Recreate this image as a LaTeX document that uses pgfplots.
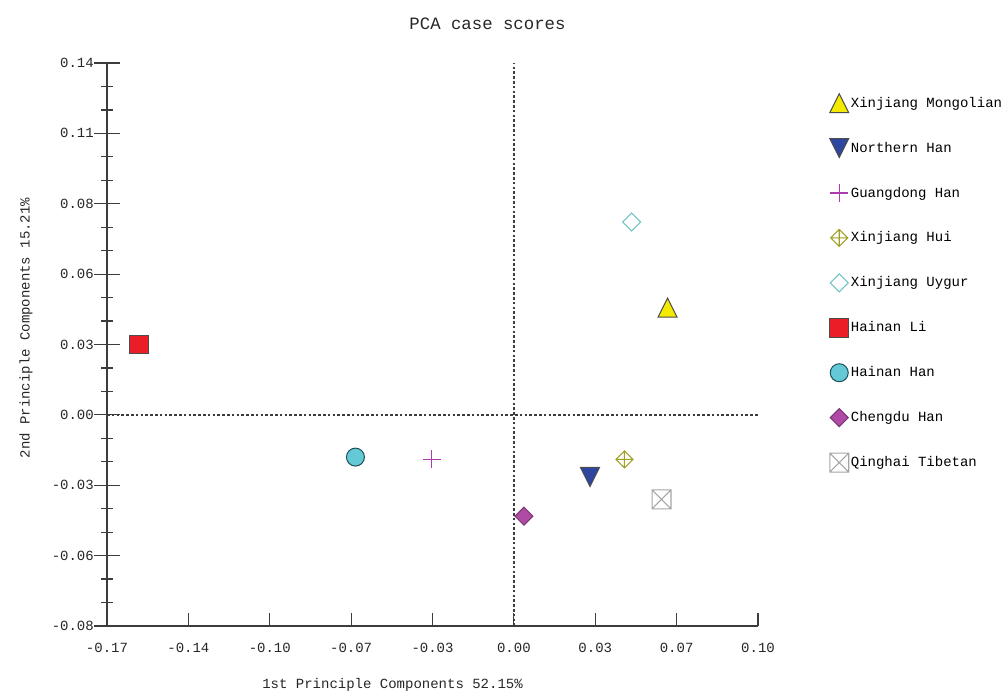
\documentclass[border=0pt]{standalone}
\usepackage{pgfplots}
\pgfplotsset{compat=1.18}
\usepackage{fontspec}
\setmainfont{Liberation Mono}

\definecolor{cyel}{RGB}{243,234,0}
\definecolor{cblue}{RGB}{45,70,160}
\definecolor{cpurp}{RGB}{170,60,175}
\definecolor{colive}{RGB}{160,160,40}
\definecolor{cuyg}{RGB}{110,195,195}
\definecolor{cred}{RGB}{235,30,40}
\definecolor{ccyan}{RGB}{100,200,215}
\definecolor{ccyanb}{RGB}{30,80,90}
\definecolor{cmag}{RGB}{175,75,165}
\definecolor{cgray}{RGB}{165,165,165}
\definecolor{caxis}{RGB}{60,60,60}

\pgfdeclareplotmark{tup}{%
  \pgfpathmoveto{\pgfqpoint{0pt}{\pgfplotmarksize}}%
  \pgfpathlineto{\pgfqpoint{\pgfplotmarksize}{-\pgfplotmarksize}}%
  \pgfpathlineto{\pgfqpoint{-\pgfplotmarksize}{-\pgfplotmarksize}}%
  \pgfpathclose\pgfusepathqfillstroke}
\pgfdeclareplotmark{tdown}{%
  \pgfpathmoveto{\pgfqpoint{0pt}{-\pgfplotmarksize}}%
  \pgfpathlineto{\pgfqpoint{\pgfplotmarksize}{\pgfplotmarksize}}%
  \pgfpathlineto{\pgfqpoint{-\pgfplotmarksize}{\pgfplotmarksize}}%
  \pgfpathclose\pgfusepathqfillstroke}
\pgfdeclareplotmark{dia}{%
  \pgfpathmoveto{\pgfqpoint{0pt}{\pgfplotmarksize}}%
  \pgfpathlineto{\pgfqpoint{\pgfplotmarksize}{0pt}}%
  \pgfpathlineto{\pgfqpoint{0pt}{-\pgfplotmarksize}}%
  \pgfpathlineto{\pgfqpoint{-\pgfplotmarksize}{0pt}}%
  \pgfpathclose\pgfusepathqfillstroke}
\pgfdeclareplotmark{diaopen}{%
  \pgfpathmoveto{\pgfqpoint{0pt}{\pgfplotmarksize}}%
  \pgfpathlineto{\pgfqpoint{\pgfplotmarksize}{0pt}}%
  \pgfpathlineto{\pgfqpoint{0pt}{-\pgfplotmarksize}}%
  \pgfpathlineto{\pgfqpoint{-\pgfplotmarksize}{0pt}}%
  \pgfpathclose\pgfusepathqstroke}
\pgfdeclareplotmark{diaplus}{%
  \pgfpathmoveto{\pgfqpoint{0pt}{\pgfplotmarksize}}%
  \pgfpathlineto{\pgfqpoint{\pgfplotmarksize}{0pt}}%
  \pgfpathlineto{\pgfqpoint{0pt}{-\pgfplotmarksize}}%
  \pgfpathlineto{\pgfqpoint{-\pgfplotmarksize}{0pt}}%
  \pgfpathclose
  \pgfpathmoveto{\pgfqpoint{0pt}{\pgfplotmarksize}}%
  \pgfpathlineto{\pgfqpoint{0pt}{-\pgfplotmarksize}}%
  \pgfpathmoveto{\pgfqpoint{-\pgfplotmarksize}{0pt}}%
  \pgfpathlineto{\pgfqpoint{\pgfplotmarksize}{0pt}}%
  \pgfusepathqstroke}
\pgfdeclareplotmark{plusm}{%
  \pgfsetstrokecolor{cpurp}%
  \pgfpathmoveto{\pgfqpoint{0pt}{\pgfplotmarksize}}%
  \pgfpathlineto{\pgfqpoint{0pt}{-\pgfplotmarksize}}%
  \pgfpathmoveto{\pgfqpoint{-\pgfplotmarksize}{0pt}}%
  \pgfpathlineto{\pgfqpoint{\pgfplotmarksize}{0pt}}%
  \pgfusepathqstroke}
\pgfdeclareplotmark{sqx}{%
  \pgfpathrectangle{\pgfqpoint{-\pgfplotmarksize}{-\pgfplotmarksize}}{\pgfqpoint{2\pgfplotmarksize}{2\pgfplotmarksize}}%
  \pgfpathmoveto{\pgfqpoint{-\pgfplotmarksize}{-\pgfplotmarksize}}%
  \pgfpathlineto{\pgfqpoint{\pgfplotmarksize}{\pgfplotmarksize}}%
  \pgfpathmoveto{\pgfqpoint{-\pgfplotmarksize}{\pgfplotmarksize}}%
  \pgfpathlineto{\pgfqpoint{\pgfplotmarksize}{-\pgfplotmarksize}}%
  \pgfusepathqstroke}

\begin{document}
\begin{tikzpicture}
\begin{axis}[
  at={(80.25pt,51pt)}, anchor=south west,
  scale only axis, width=488.25pt, height=422.25pt,
  xmin=-0.17, xmax=0.102, ymin=-0.084, ymax=0.14,
  axis x line=none, axis y line=left,
  axis line style={-, line width=0.9pt, caxis},
  ytick={-0.084,-0.056,-0.028,0,0.028,0.056,0.084,0.112,0.14},
  yticklabels={-0.08,-0.06,-0.03,0.00,0.03,0.06,0.08,0.11,0.14},
  minor y tick num=2,
  tick align=center,
  major tick length=18.75pt, minor tick length=8.6pt,
  tick style={line width=0.9pt, caxis},
  yticklabel style={font=\fontsize{10.5}{12}\selectfont, text=black!85, xshift=3pt},
  legend style={at={(axis description cs:1.1035,0.951)}, anchor=north west,
    draw=none, fill=none, font=\fontsize{10.5}{12}\selectfont,
    row sep=19.3pt, column sep=1.5pt, nodes={inner sep=0pt}},
  legend cell align=left,
  legend image code/.code={\path[draw=none, fill=none] (-7.2pt,-7.2pt) rectangle (7.2pt,7.2pt);
    \draw[#1] plot coordinates {(0pt,0pt)};},
]
\addplot[forget plot, caxis, line width=1.1pt, dash pattern=on 2pt off 1.6pt] coordinates {(0,-0.084) (0,0.14)};
\addplot[forget plot, caxis, line width=1.1pt, dash pattern=on 2pt off 1.6pt] coordinates {(-0.17,0) (0.102,0)};

\addplot[only marks, color=black!70, mark=tup, mark size=7.1pt, mark options={draw=black!70, fill=cyel, line width=0.75pt, solid}] coordinates {(0.0642,0.0427)};
\addlegendentry{Xinjiang Mongolian}
\addplot[only marks, color=black!70, mark=tdown, mark size=7.1pt, mark options={draw=black!70, fill=cblue, line width=0.75pt, solid}] coordinates {(0.0318,-0.0247)};
\addlegendentry{Northern Han}
\addplot[only marks, color=cpurp, draw=cpurp, mark=plusm, mark size=6.75pt, mark options={color=cpurp, draw=cpurp, line width=1.05pt, solid}] coordinates {(-0.0344,-0.0177)};
\addlegendentry{Guangdong Han}
\addplot[only marks, color=colive, mark=diaplus, mark size=6.4pt, mark options={draw=colive, line width=0.8pt, solid}] coordinates {(0.0462,-0.0177)};
\addlegendentry{Xinjiang Hui}
\addplot[only marks, color=cuyg, mark=diaopen, mark size=6.75pt, mark options={draw=cuyg, line width=0.8pt, solid}] coordinates {(0.0492,0.0767)};
\addlegendentry{Xinjiang Uygur}
\addplot[only marks, color=black!70, mark=square*, mark size=7.1pt, mark options={draw=black!70, fill=cred, line width=0.75pt, solid}] coordinates {(-0.1568,0.0280)};
\addlegendentry{Hainan Li}
\addplot[only marks, color=ccyanb, mark=*, mark size=6.75pt, mark options={draw=ccyanb, fill=ccyan, line width=0.75pt, solid}] coordinates {(-0.0662,-0.0168)};
\addlegendentry{Hainan Han}
\addplot[only marks, color=cmag!70!black, mark=dia, mark size=6.75pt, mark options={draw=cmag!70!black, fill=cmag, line width=0.75pt, solid}] coordinates {(0.0042,-0.0403)};
\addlegendentry{Chengdu Han}
\addplot[only marks, color=cgray, mark=sqx, mark size=7.1pt, mark options={draw=cgray, line width=0.8pt, solid}] coordinates {(0.0617,-0.0336)};
\addlegendentry{Qinghai Tibetan}
\end{axis}

\begin{axis}[
  at={(80.25pt,51pt)}, anchor=south west,
  scale only axis, width=488.25pt, height=422.25pt,
  xmin=-0.17, xmax=0.102, ymin=-0.084, ymax=0.14,
  axis x line=bottom, axis y line=none,
  axis line style={-, line width=0.9pt, caxis},
  xtick={-0.17,-0.136,-0.102,-0.068,-0.034,0,0.034,0.068,0.102},
  xticklabels={-0.17,-0.14,-0.10,-0.07,-0.03,0.00,0.03,0.07,0.10},
  tick align=inside, major tick length=9.75pt,
  tick style={line width=0.9pt, caxis},
  xticklabel style={font=\fontsize{10.5}{12}\selectfont, text=black!85, yshift=-9pt},
]
\end{axis}

\node[font=\fontsize{13}{15}\selectfont, text=black!85] at (365.6pt,502.5pt) {PCA case scores};
\node[font=\fontsize{10.5}{12}\selectfont, text=black!85, rotate=90] at (19.5pt,274.5pt) {2nd Principle Components 15.21\%};
\node[font=\fontsize{10.5}{12}\selectfont, text=black!85] at (294.4pt,6.75pt) {1st Principle Components 52.15\%};

\pgfresetboundingbox
\useasboundingbox (0,0) rectangle (753.75pt,520.5pt);
\end{tikzpicture}
\end{document}
